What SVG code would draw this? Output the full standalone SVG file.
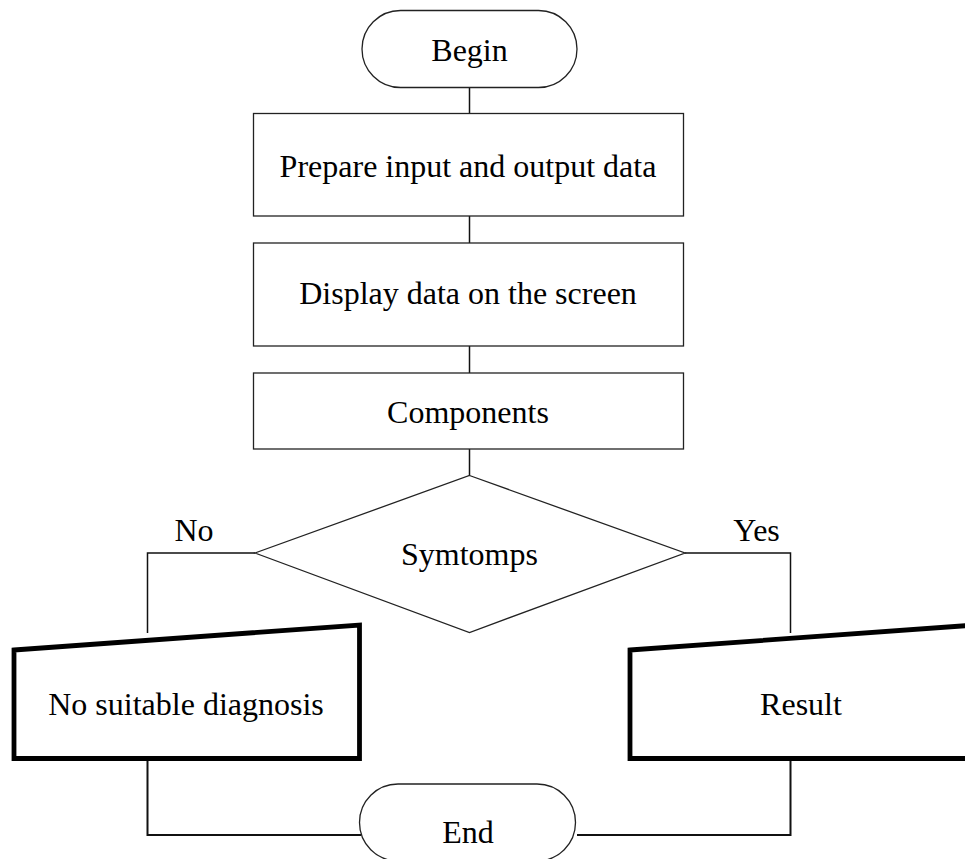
<svg xmlns="http://www.w3.org/2000/svg" width="965" height="859" viewBox="0 0 965 859">
<style>
.shape{fill:#fff;stroke:#222;stroke-width:1.3}
.thick{fill:#fff;stroke:#000;stroke-width:4.8;stroke-linejoin:miter}
.conn{fill:none;stroke:#111;stroke-width:1.5}
.conn2{fill:none;stroke:#111;stroke-width:2}
text{font-family:"Liberation Serif","Times New Roman",serif;font-size:32px;fill:#000;text-anchor:middle}
</style>
<rect width="965" height="859" fill="#fff"/>
<g id="connectors">
<line class="conn" x1="469.5" y1="87.5" x2="469.5" y2="113.5"/>
<line class="conn" x1="469.5" y1="216" x2="469.5" y2="243"/>
<line class="conn" x1="469.5" y1="346" x2="469.5" y2="373"/>
<line class="conn" x1="469.5" y1="449" x2="469.5" y2="475.5"/>
<polyline class="conn" points="255,553 147.5,553 147.5,633"/>
<polyline class="conn" points="685,553 790.5,553 790.5,633"/>
<polyline class="conn2" points="147.5,760 147.5,835 361,835"/>
<polyline class="conn2" points="790.5,760 790.5,835 577,835"/>
<text x="194" y="541">No</text>
<text x="756.5" y="541">Yes</text>
</g>
<g id="begin">
<rect class="shape" x="362" y="10.5" width="215" height="77" rx="38.5"/>
<text x="469.5" y="61">Begin</text>
</g>
<g id="prepare">
<rect class="shape" x="253.5" y="113.5" width="430" height="102.5"/>
<text x="468" y="177">Prepare input and output data</text>
</g>
<g id="display">
<rect class="shape" x="253.5" y="243" width="430" height="103"/>
<text x="468" y="304">Display data on the screen</text>
</g>
<g id="components">
<rect class="shape" x="253.5" y="373" width="430" height="76"/>
<text x="468" y="422.5">Components</text>
</g>
<g id="symptoms">
<polygon class="shape" points="469.5,475.5 685,553 469.5,632.5 255,553"/>
<text x="469.5" y="565">Symtomps</text>
</g>
<g id="no-diagnosis">
<polygon class="thick" points="14,650 359.5,625 359.5,758.5 14,758.5"/>
<text x="186" y="715">No suitable diagnosis</text>
</g>
<g id="result">
<polygon class="thick" points="630,650 975.5,625 975.5,758.5 630,758.5"/>
<text x="801" y="715">Result</text>
</g>
<g id="end">
<rect class="shape" x="359.5" y="784" width="216" height="77" rx="38.5"/>
<text x="468" y="843">End</text>
</g>
</svg>
